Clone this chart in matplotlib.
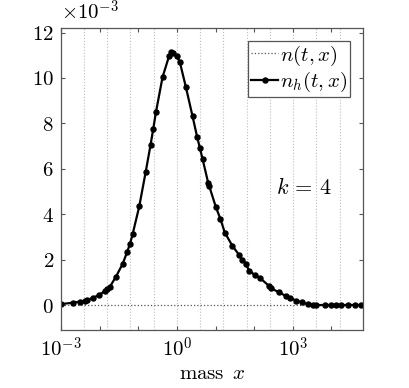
import numpy as np
import matplotlib
matplotlib.use("Agg")
import matplotlib.pyplot as plt

plt.rcParams['mathtext.fontset'] = 'cm'
plt.rcParams['font.family'] = 'DejaVu Serif'

# log10 of mass x for the approximate solution points
log_x = [-3.0, -2.695, -2.506, -2.377, -2.318, -2.163, -2.008, -1.860, -1.801,
         -1.731, -1.576, -1.403, -1.284, -1.214, -1.145, -0.974, -0.809, -0.680,
         -0.612, -0.543, -0.370, -0.199, -0.140, -0.096, -0.008, 0.078, 0.233,
         0.406, 0.525, 0.594, 0.664, 0.809, 0.835, 1.008, 1.129, 1.240, 1.439,
         1.610, 1.698, 1.783, 1.868, 2.016, 2.145, 2.385, 2.447, 2.643, 2.817,
         2.920, 3.093, 3.248, 3.393, 3.522, 3.610, 3.824, 3.997, 4.127, 4.256,
         4.426, 4.599, 4.773]
# n_h(t, x) in units of 1e-3
n_h = [0.04, 0.10, 0.15, 0.19, 0.22, 0.32, 0.45, 0.62, 0.69,
       0.81, 1.25, 1.81, 2.35, 2.69, 3.12, 4.34, 5.84, 7.06,
       7.75, 8.48, 10.04, 10.98, 11.15, 11.10, 10.98, 10.69, 9.60,
       8.31, 7.40, 6.92, 6.44, 5.39, 5.25, 4.32, 3.78, 3.19, 2.60,
       2.21, 1.99, 1.81, 1.52, 1.32, 1.20, 0.84, 0.73, 0.56, 0.40,
       0.32, 0.19, 0.12, 0.03, 0.01, 0.0, 0.0, 0.0, 0.0, 0.0,
       0.0, 0.0, 0.0]

# exact solution n(t, x)
n_x = [1e-3, 4.0 ** 8]
n_exact = [0.0, 0.0]

grid_x = [4.0 ** k for k in range(-4, 8)]

fig = plt.figure(figsize=(4.09, 3.88), dpi=100)
ax = fig.add_axes([0.149, 0.1495, 0.7385, 0.7783])

for gx in grid_x:
    ax.axvline(gx, color='#bdbdbd', linestyle=':', linewidth=0.8, zorder=0)

ax.plot(n_x, n_exact, linestyle=':', color='#555555', linewidth=0.9,
        label=r'$n(t,x)$')
ax.plot(10.0 ** np.array(log_x), n_h, '-', color='black', linewidth=1.6,
        marker='o', markersize=3.6, label=r'$n_h(t,x)$')

ax.set_xscale('log')
ax.set_xlim(1e-3, 4.0 ** 8)
ax.set_ylim(-1.1, 12.2)

ax.set_xticks([10.0 ** k for k in range(-3, 5)])
ax.set_xticklabels([r'$10^{-3}$', '', '', r'$10^{0}$', '', '', r'$10^{3}$', ''])
ax.xaxis.set_minor_locator(matplotlib.ticker.NullLocator())
ax.set_yticks(range(0, 13, 2))
ax.set_yticklabels([r'$%d$' % v for v in range(0, 13, 2)])
ax.tick_params(direction='in', top=True, right=True, labelsize=15,
               color='#555555', length=3, pad=5)
for s in ax.spines.values():
    s.set_color('#555555')
    s.set_linewidth(0.9)

ax.set_xlabel(r'$\mathrm{mass}\ \,x$', fontsize=15, labelpad=2)
ax.text(0.0, 1.015, r'$\times10^{-3}$', transform=ax.transAxes,
        fontsize=15, ha='left', va='bottom')
ax.text(0.805, 0.47, r'$k\,=\,4$', transform=ax.transAxes, fontsize=16,
        ha='center', va='center')

leg = ax.legend(loc='upper right', fontsize=15, handlelength=1.3,
                handletextpad=0.1, borderpad=0.15, labelspacing=0.1,
                fancybox=False, framealpha=1, borderaxespad=0.6)
leg.get_frame().set_edgecolor('#555555')
leg.get_frame().set_linewidth(0.9)

fig.savefig('out.png', dpi=100)
